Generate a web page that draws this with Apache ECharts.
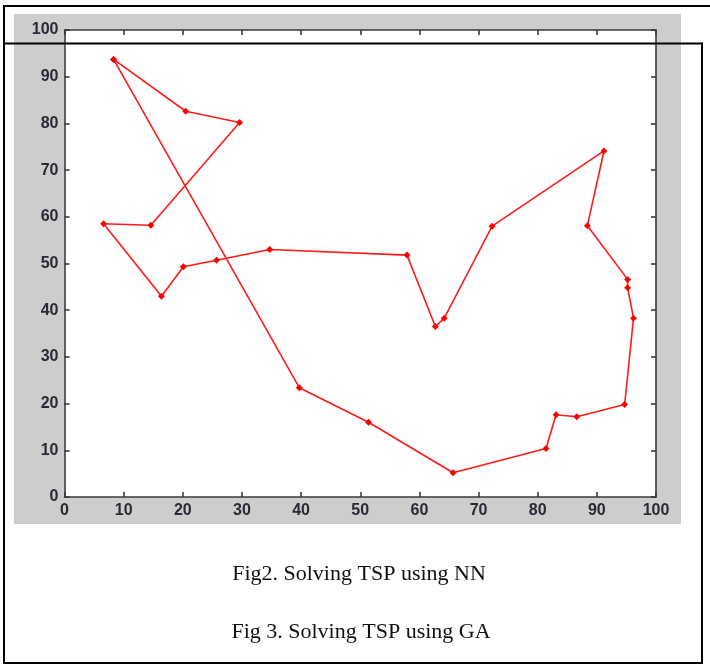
<!DOCTYPE html>
<html>
<head>
<meta charset="utf-8">
<script src="https://cdn.jsdelivr.net/npm/echarts@6/dist/echarts.min.js"></script>
<style>
html,body{margin:0;padding:0;background:#fff;}
#chart{width:710px;height:669px;}
</style>
</head>
<body>
<div id="chart"></div>
<script>
// Tour order of cities (x, y)
const tourX = [8.3, 20.5, 29.6, 14.6, 6.6, 16.4, 20.1, 25.7, 34.7, 57.9, 62.7, 64.2, 72.3, 91.2, 88.4, 95.2, 95.2, 96.2, 94.7, 86.6, 83.1, 81.4, 65.7, 51.4, 39.7];
const tourY = [93.7, 82.6, 80.2, 58.2, 58.5, 43.0, 49.3, 50.7, 53.0, 51.8, 36.5, 38.3, 58.0, 74.1, 58.1, 46.6, 44.8, 38.3, 19.8, 17.2, 17.6, 10.4, 5.2, 16.0, 23.4];
const axisMin = 0, axisMax = 100, axisStep = 10;
const captions = ['Fig2. Solving TSP using NN', 'Fig 3. Solving TSP using GA'];

const pts = tourX.map((x, i) => [x, tourY[i]]);
pts.push(pts[0]); // close the tour

const axisColor = '#3a3a3a';
const labelStyle = {color: '#2a2a36', fontFamily: 'Liberation Sans, Arial, sans-serif', fontSize: 16, fontWeight: 'bold'};

function mkAxis(pos, showLabel) {
  return {
    type: 'value', position: pos, min: axisMin, max: axisMax, interval: axisStep,
    axisLine: {show: true, onZero: false, lineStyle: {color: axisColor, width: 1.6}},
    axisTick: {show: true, inside: true, length: 5, lineStyle: {color: axisColor, width: 1.6}},
    axisLabel: Object.assign({show: showLabel, margin: 6}, labelStyle),
    splitLine: {show: false}
  };
}

const chart = echarts.init(document.getElementById('chart'), null, {renderer: 'canvas'});
const bw = 2;
chart.setOption({
  backgroundColor: '#ffffff',
  animation: false,
  grid: {left: 64.5, top: 30, width: 591.5, height: 467, show: true, backgroundColor: '#ffffff', borderWidth: 0},
  xAxis: [mkAxis('bottom', true), mkAxis('top', false)],
  yAxis: [mkAxis('left', true), mkAxis('right', false)],
  series: [{
    type: 'line', xAxisIndex: 0, yAxisIndex: 0,
    data: pts,
    symbol: 'diamond', symbolSize: 7, showSymbol: true,
    itemStyle: {color: '#ff0000'},
    lineStyle: {color: '#ff1a1a', width: 1.6},
    z: 5
  }],
  graphic: [
    {type: 'rect', z: -10, shape: {x: 14, y: 14, width: 667, height: 510}, style: {fill: '#cdcdcd'}},
    {type: 'line', z: 100, shape: {x1: 4, y1: 6, x2: 710, y2: 6}, style: {stroke: '#000', lineWidth: bw}},
    {type: 'line', z: 100, shape: {x1: 4, y1: 5, x2: 4, y2: 664}, style: {stroke: '#000', lineWidth: bw}},
    {type: 'line', z: 100, shape: {x1: 4, y1: 43.5, x2: 703, y2: 43.5}, style: {stroke: '#000', lineWidth: bw}},
    {type: 'line', z: 100, shape: {x1: 702, y1: 42.5, x2: 702, y2: 664}, style: {stroke: '#000', lineWidth: bw}},
    {type: 'line', z: 100, shape: {x1: 3, y1: 663, x2: 703, y2: 663}, style: {stroke: '#000', lineWidth: bw}},
    {type: 'text', z: 100, x: 359, y: 574, style: {text: captions[0], fill: '#111', font: '22px "Liberation Serif", serif', textAlign: 'center', textVerticalAlign: 'middle'}},
    {type: 'text', z: 100, x: 361, y: 632, style: {text: captions[1], fill: '#111', font: '22px "Liberation Serif", serif', textAlign: 'center', textVerticalAlign: 'middle'}}
  ]
});
</script>
</body>
</html>
